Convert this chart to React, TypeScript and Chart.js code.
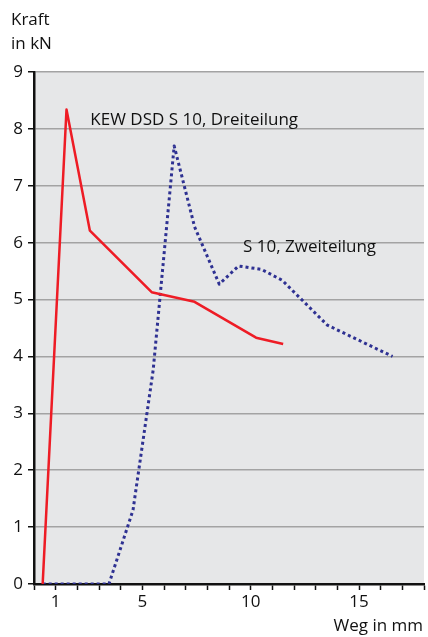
import React, { useEffect, useRef } from "react";
import { Chart, registerables } from "chart.js";

Chart.register(...registerables);

const dreiX = [0.4, 1.5, 2.58, 5.43, 7.41, 10.25, 11.5];
const dreiY = [0, 8.34, 6.21, 5.13, 4.96, 4.33, 4.22];

const zweiX = [0.4, 3.46, 4.57, 5.5, 6.47, 7.41, 8.55, 9.44, 10.5, 11.45, 13.54, 16.55];
const zweiY = [0, 0, 1.3, 3.76, 7.7, 6.28, 5.27, 5.59, 5.53, 5.34, 4.55, 4.0];

const xLabels = [1, 5, 10, 15];
const seriesNames = ["KEW DSD S 10, Dreiteilung", "S 10, Zweiteilung"];

const FONT = "'Open Sans', sans-serif";

export default function App() {
  const ref = useRef<HTMLCanvasElement | null>(null);
  useEffect(() => {
    const bgPlugin = {
      id: "bg",
      beforeDraw(chart: any) {
        const { ctx, chartArea } = chart;
        ctx.save();
        ctx.fillStyle = "#e6e7e8";
        ctx.fillRect(chartArea.left, chartArea.top, chartArea.right - chartArea.left, chartArea.bottom - chartArea.top);
        ctx.restore();
      },
      afterDraw(chart: any) {
        const { ctx } = chart;
        const xs = chart.scales.x;
        const ys = chart.scales.y;
        ctx.save();
        ctx.fillStyle = "#111";
        ctx.font = `17px ${FONT}`;
        ctx.textBaseline = "middle";
        ctx.textAlign = "left";
        ctx.fillText("Kraft", 11, 20);
        ctx.fillText("in kN", 11, 44);
        ctx.fillText(seriesNames[0], xs.getPixelForValue(2.6), ys.getPixelForValue(8.15));
        ctx.fillText(seriesNames[1], xs.getPixelForValue(9.65), ys.getPixelForValue(5.92));
        ctx.textAlign = "right";
        ctx.fillText("Weg in mm", 423, 626);
        ctx.restore();
      },
    };
    const chart = new Chart(ref.current as HTMLCanvasElement, {
      type: "scatter",
      data: {
        datasets: [
          {
            label: seriesNames[0],
            data: dreiX.map((x, i) => ({ x, y: dreiY[i] })),
            showLine: true,
            borderColor: "#ee1c25",
            borderWidth: 2.5,
            borderJoinStyle: "round",
            pointRadius: 0,
            tension: 0,
          },
          {
            label: seriesNames[1],
            data: zweiX.map((x, i) => ({ x, y: zweiY[i] })),
            showLine: true,
            borderColor: "#2e3192",
            borderWidth: 3,
            borderDash: [3, 3],
            borderCapStyle: "butt",
            borderJoinStyle: "round",
            pointRadius: 0,
            tension: 0,
          },
        ],
      },
      options: {
        animation: false,
        responsive: false,
        maintainAspectRatio: false,
        layout: { padding: { left: 0, top: 72, right: 4, bottom: 0 } },
        plugins: { legend: { display: false }, tooltip: { enabled: false } },
        scales: {
          x: {
            type: "linear",
            min: 0,
            max: 18,
            afterFit(scale: any) {
              scale.height = 53;
            },
            ticks: {
              stepSize: 1,
              autoSkip: false,
              maxRotation: 0,
              color: "#111",
              font: { family: FONT, size: 17 },
              padding: 2,
              callback: (v: any) => (xLabels.includes(Number(v)) ? String(v) : ""),
            },
            grid: { drawOnChartArea: false, drawTicks: true, tickLength: 6, tickColor: "#111", tickWidth: 1.5 },
            border: { color: "#111", width: 2.5 },
          },
          y: {
            type: "linear",
            min: 0,
            max: 9,
            afterFit(scale: any) {
              scale.width = 34;
            },
            ticks: {
              stepSize: 1,
              color: "#111",
              font: { family: FONT, size: 17 },
              padding: 5,
            },
            grid: { color: "#a3a3a3", lineWidth: 1.5, tickLength: 6, tickColor: "#111", tickWidth: 1.5 },
            border: { color: "#111", width: 2.5 },
          },
        },
      },
      plugins: [bgPlugin],
    } as any);
    return () => chart.destroy();
  }, []);
  return (
    <div style={{ position: "absolute", left: 0, top: 0, width: 428, height: 637 }}>
      <canvas ref={ref} width={428} height={637} style={{ width: 428, height: 637 }} />
    </div>
  );
}
